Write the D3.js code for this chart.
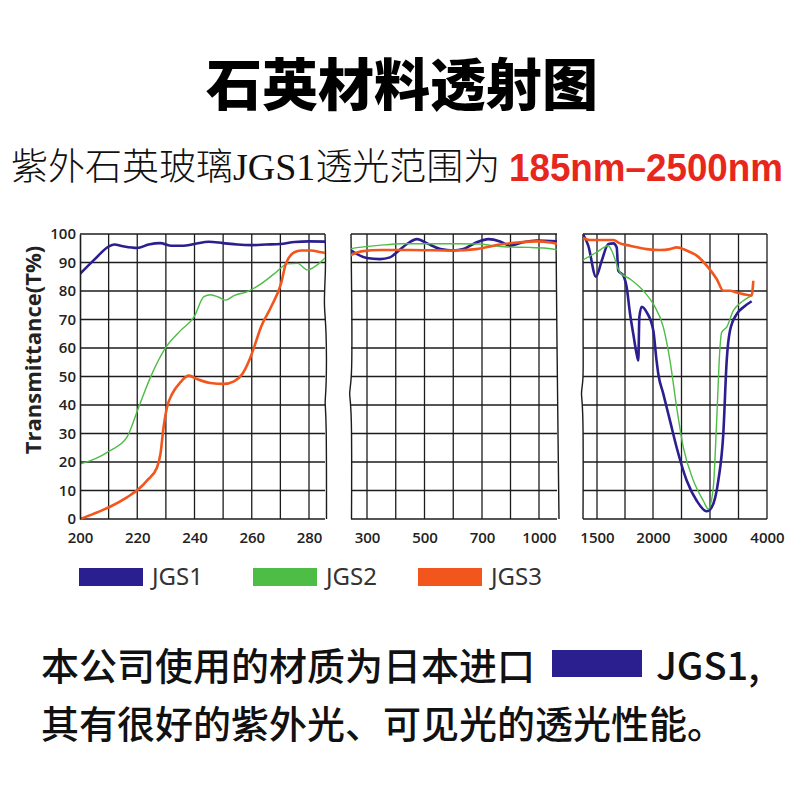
<!DOCTYPE html>
<html lang="zh">
	<head>
		<meta charset="UTF-8" />
		<title>石英材料透射图</title>
		<script src="https://d3js.org/d3.v7.min.js"></script>
		<style>
			body { margin: 0; background: #fff; }
			svg { display: block; }
		</style>
	</head>
	<body>
		<script>
			// ---- data (wavelength nm, transmittance %) ----
			// left panel: 200-285 nm
			var jgs1UV = [[200,86],[205,91],[210,95.6],[212,96.3],[215,95.7],[220,95.1],[224,96.3],[228,96.8],[232,95.9],[236,95.9],[240,96.5],[245,97.3],[250,96.8],[255,96.3],[260,96.1],[265,96.3],[270,96.5],[275,97.2],[280,97.4],[287,97.3]];
			var jgs2UV = [[200,19.3],[205,21],[210.5,24],[216.4,28.7],[220.5,39.2],[224.6,49.7],[230.4,60.8],[235.1,66.1],[239.8,70.8],[243.3,78],[245.6,78.7],[248.5,77.8],[250.9,76.8],[253.8,78.4],[258.5,79.8],[263.2,82.5],[267.8,86],[272.5,89.5],[276,89.7],[279.5,87.4],[282.5,88.9],[287,93]];
			var jgs3UV = [[200,0],[204.7,1.8],[210.5,4.3],[216.4,7.6],[220.5,10.5],[223.4,13.5],[226.9,18.1],[228.1,22.8],[229.2,32.2],[230.4,39.2],[232.2,43.9],[235.1,48],[238,50.3],[240.9,49.1],[245.6,47.7],[250.3,47.4],[253.8,48.3],[256.7,50.9],[259.1,55.6],[260.8,60.2],[263.2,67.3],[266.7,74.3],[270.2,82.5],[271.9,89.5],[274.9,93.6],[277.2,94.2],[280.7,94.2],[284.2,93.6],[287,93.2]];

			// middle panel: ~250-1100 nm
			var jgs1Vis = [[240,94.6],[264,93],[299,91.6],[345,91.2],[380,91.8],[404,93.6],[439,96.5],[474,98.2],[509,96.7],[556,94.7],[600,94.2],[635,94.7],[682,97.1],[733,98.2],[795,97.4],[847,95.9],[917,97.1],[987,97.7],[1100,97.4]];
			var jgs2Vis = [[240,94.8],[280,95.4],[340,96],[420,96.6],[500,96.6],[600,96.6],[690,96.5],[760,95.9],[847,95.4],[950,95.3],[1040,95],[1100,94.4]];
			var jgs3Vis = [[240,92.4],[280,93.9],[350,94.4],[450,94.4],[600,94.2],[680,94.7],[795,96.3],[900,97.1],[990,97.4],[1060,97],[1100,96.5]];

			// right panel: ~1375-4000 nm
			var jgs1IR = [[1375,100],[1422,95.9],[1491,85],[1542,90.6],[1601,96.5],[1646,96.7],[1676,95.3],[1690,87.1],[1735,85.4],[1765,81.3],[1795,72],[1824,64.9],[1854,57.9],[1869,55.6],[1878,70.8],[1899,74.5],[1944,72.5],[2006,66.1],[2060,56],[2093,50.9],[2181,43.9],[2298,34.5],[2415,25.1],[2591,13.5],[2767,6.4],[2942,2.7],[3030,4.1],[3146,13.5],[3233,29.8],[3293,55.6],[3351,66.1],[3468,71.9],[3585,74.3],[3731,76.4]];
			var jgs2IR = [[1375,90.9],[1497,93.6],[1601,95.9],[1631,94.2],[1705,86.5],[1795,84.2],[1913,80.1],[2006,75.4],[2181,67.3],[2298,55.6],[2415,39.2],[2532,25.1],[2708,13.5],[2883,6.4],[2971,3.5],[3058,11.1],[3117,34.5],[3175,60.2],[3204,65.5],[3293,67.3],[3409,73.1],[3526,75.7],[3731,78.4]];
			var jgs3IR = [[1375,98.6],[1437,97.9],[1557,97.9],[1646,97.9],[1705,96.7],[1795,95.9],[1944,94.7],[2123,94.4],[2298,94.7],[2415,95.3],[2591,94.2],[2767,92.4],[2942,88.9],[3117,84.2],[3233,80.1],[3351,80.1],[3468,79.5],[3585,78.9],[3731,78.4],[3760,83.6]];

			var seriesNames = ["JGS1", "JGS2", "JGS3"];
			var yTicks = [0, 10, 20, 30, 40, 50, 60, 70, 80, 90, 100];
			var gridUV = [210, 220, 230, 240, 250, 260, 270, 280];
			var labelsUV = [200, 220, 240, 260, 280];
			var gridVis = [300, 400, 500, 600, 700, 850, 1000];
			var labelsVis = [300, 500, 700, 1000];
			var gridIR = [1500, 1750, 2000, 2500, 3000, 3500, 4000];
			var labelsIR = [1500, 2000, 3000, 4000];

			// ---- styling ----
			var colors = ["#2b1f8f", "#4dbd46", "#f2561d"];
			var widths = [2.6, 1.4, 2.6];
			var gridColor = "#1c1c1c";
			var tickFont = "'Open Sans', 'Noto Sans', sans-serif";
			var cjk = "'Noto Sans CJK SC', sans-serif";

			var w = 800;
			var h = 800;

			var svg = d3
				.select("body")
				.append("svg")
				.attr("width", w)
				.attr("height", h);

			var y = d3.scaleLinear().domain([0, 100]).range([519, 234]);
			var plotTop = y(100);
			var plotBottom = y(0);

			// broken x axis: three panels, each with its own scale
			var panels = [
				{
					id: "uv",
					x: d3.scaleLinear().domain([200, 280]).range([80, 309]),
					left: 80, right: 325,
					wobbleL: null,
					wobbleR: [[0,0],[0.12,1],[0.25,-1.5],[0.32,1.5],[0.55,1.5],[0.59,-0.5],[0.63,1.5],[1,1.5]],
					grid: gridUV, labels: labelsUV,
					data: [jgs1UV, jgs2UV, jgs3UV]
				},
				{
					id: "vis",
					x: d3.scaleLinear().domain([300, 700, 1000]).range([367, 482, 539]),
					left: 351, right: 557,
					wobbleL: [[0,0],[0.3,1],[0.52,1],[0.56,-2.5],[0.6,1],[1,0.5]],
					wobbleR: [[0,-1],[0.4,0],[0.7,1],[1,2]],
					grid: gridVis, labels: labelsVis,
					data: [jgs1Vis, jgs2Vis, jgs3Vis]
				},
				{
					id: "ir",
					x: d3.scaleLinear().domain([1500, 2000, 3000, 4000]).range([597, 653, 710, 767]),
					left: 583, right: 767,
					wobbleL: [[0,0],[0.4,0],[0.52,0.5],[0.56,-2.5],[0.6,0.5],[1,0]],
					wobbleR: null,
					grid: gridIR, labels: labelsIR,
					data: [jgs1IR, jgs2IR, jgs3IR]
				}
			];

			var edgeLine = d3
				.line()
				.x(function (d) { return d[0]; })
				.y(function (d) { return d[1]; })
				.curve(d3.curveBasis);

			function edge(x0, wobble) {
				var pts = wobble.map(function (p) {
					return [x0 + p[1], plotTop + p[0] * (plotBottom - plotTop)];
				});
				return edgeLine(pts);
			}

			var defs = svg.append("defs");

			panels.forEach(function (p) {
				defs.append("clipPath")
					.attr("id", "clip-" + p.id)
					.append("rect")
					.attr("x", p.left)
					.attr("y", plotTop - 6)
					.attr("width", p.right - p.left)
					.attr("height", plotBottom - plotTop + 12);

				var g = svg.append("g").attr("class", "panel-" + p.id);

				// horizontal grid
				g.selectAll("line.hgrid")
					.data(yTicks)
					.enter()
					.append("line")
					.attr("class", "hgrid")
					.attr("x1", p.left)
					.attr("x2", p.right)
					.attr("y1", function (d) { return y(d); })
					.attr("y2", function (d) { return y(d); })
					.attr("stroke", gridColor)
					.attr("stroke-width", 1.3);

				// vertical grid
				g.selectAll("line.vgrid")
					.data(p.grid)
					.enter()
					.append("line")
					.attr("class", "vgrid")
					.attr("x1", function (d) { return p.x(d); })
					.attr("x2", function (d) { return p.x(d); })
					.attr("y1", plotTop)
					.attr("y2", plotBottom)
					.attr("stroke", gridColor)
					.attr("stroke-width", 1.3);

				// wavy break edges
				[[p.left, p.wobbleL], [p.right, p.wobbleR]].forEach(function (e) {
					if (!e[1]) return;
					g.append("path")
						.attr("d", edge(e[0], e[1]))
						.attr("fill", "none")
						.attr("stroke", gridColor)
						.attr("stroke-width", 1.4);
				});

				// curves
				var line = d3
					.line()
					.x(function (d) { return p.x(d[0]); })
					.y(function (d) { return y(d[1]); })
					.curve(d3.curveMonotoneX);

				var curves = g.append("g").attr("clip-path", "url(#clip-" + p.id + ")");
				curves.selectAll("path")
					.data(p.data)
					.enter()
					.append("path")
					.attr("d", line)
					.attr("fill", "none")
					.attr("stroke", function (d, i) { return colors[i]; })
					.attr("stroke-width", function (d, i) { return widths[i]; })
					.attr("stroke-linejoin", "round");

				// x tick labels
				var ax = g.append("g")
					.attr("transform", "translate(0," + plotBottom + ")")
					.call(d3.axisBottom(p.x)
						.tickValues(p.labels)
						.tickFormat(d3.format("d"))
						.tickSize(0)
						.tickPadding(13));
				ax.select(".domain").remove();
				ax.selectAll("text")
					.attr("font-family", tickFont)
					.attr("font-size", 15)
					.attr("font-weight", 600)
					.attr("fill", "#222");
			});

			// y axis labels
			var yAxis = svg.append("g")
				.attr("transform", "translate(80,0)")
				.call(d3.axisLeft(y).tickValues(yTicks).tickSize(0).tickPadding(4));
			yAxis.select(".domain")
				.attr("stroke", gridColor)
				.attr("stroke-width", 1.6);
			yAxis.selectAll("text")
				.attr("font-family", tickFont)
				.attr("font-size", 15)
				.attr("font-weight", 600)
				.attr("fill", "#222");

			svg.append("text")
				.attr("transform", "translate(41,350) rotate(-90)")
				.attr("text-anchor", "middle")
				.attr("font-family", tickFont)
				.attr("font-size", 22)
				.attr("font-weight", 700)
				.attr("fill", "#222")
				.text("Transmittance(T%)");

			// legend
			var legendX = [79, 253, 418];
			var legend = svg.selectAll("g.legend")
				.data(seriesNames)
				.enter()
				.append("g")
				.attr("class", "legend")
				.attr("transform", function (d, i) { return "translate(" + legendX[i] + ",568)"; });
			legend.append("rect")
				.attr("width", 64)
				.attr("height", 18)
				.attr("fill", function (d, i) { return colors[i]; });
			legend.append("text")
				.attr("x", 73)
				.attr("y", 17)
				.attr("font-family", "'Noto Sans', sans-serif")
				.attr("font-size", 24)
				.attr("fill", "#333")
				.text(function (d) { return d; });

			// titles
			svg.append("text")
				.attr("x", 402)
				.attr("y", 105)
				.attr("text-anchor", "middle")
				.attr("font-family", cjk)
				.attr("font-size", 56)
				.attr("font-weight", 900)
				.attr("fill", "#000")
				.text("石英材料透射图");

			var sub = svg.append("text")
				.attr("x", 11)
				.attr("y", 180)
				.attr("font-size", 37)
				.attr("fill", "#111");
			sub.append("tspan")
				.attr("font-family", cjk)
				.attr("font-weight", 300)
				.text("紫外石英玻璃");
			sub.append("tspan")
				.attr("font-family", "'Liberation Serif', serif")
				.attr("font-size", 38)
				.text("JGS1");
			sub.append("tspan")
				.attr("font-family", cjk)
				.attr("font-weight", 300)
				.text("透光范围为");

			svg.append("text")
				.attr("x", 509)
				.attr("y", 181)
				.attr("font-family", "'Liberation Sans', Arial, sans-serif")
				.attr("font-size", 38)
				.attr("font-weight", 700)
				.attr("fill", "#e8271c")
				.attr("textLength", 274)
				.attr("lengthAdjust", "spacingAndGlyphs")
				.text("185nm–2500nm");

			// note below the chart
			svg.append("text")
				.attr("x", 41)
				.attr("y", 680)
				.attr("font-family", cjk)
				.attr("font-size", 38)
				.attr("font-weight", 500)
				.attr("fill", "#111")
				.text("本公司使用的材质为日本进口");
			svg.append("rect")
				.attr("x", 552)
				.attr("y", 650)
				.attr("width", 90)
				.attr("height", 27)
				.attr("fill", colors[0]);
			svg.append("text")
				.attr("x", 656)
				.attr("y", 680)
				.attr("font-family", cjk)
				.attr("font-size", 38)
				.attr("font-weight", 500)
				.attr("fill", "#111")
				.text("JGS1,");
			svg.append("text")
				.attr("x", 41)
				.attr("y", 738)
				.attr("font-family", cjk)
				.attr("font-size", 38)
				.attr("font-weight", 500)
				.attr("fill", "#111")
				.text("其有很好的紫外光、可见光的透光性能。");
		</script>
	</body>
</html>
